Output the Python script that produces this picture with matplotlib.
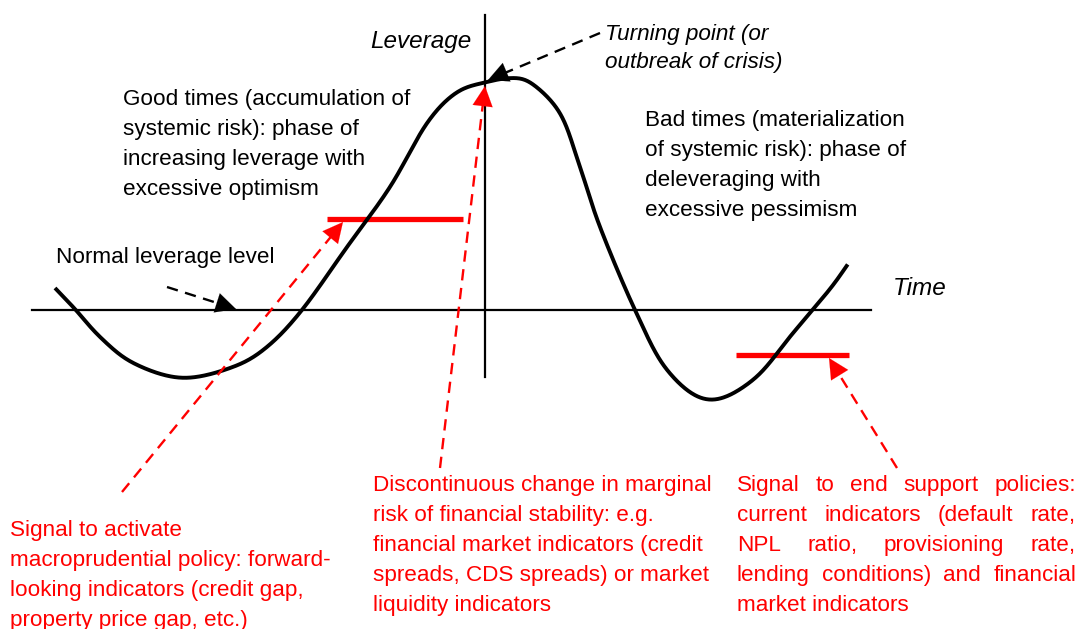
import numpy as np
import matplotlib
matplotlib.use("Agg")
import matplotlib.pyplot as plt
from matplotlib.patches import FancyArrowPatch

# ---------------- data (pixel-space diagram coordinates) ----------------
curve_x = [55, 75, 100, 133, 182, 233, 267, 302, 347, 390, 427, 457, 487,
           510, 530, 560, 580, 600, 635, 667, 708, 753, 793, 830, 848]
curve_y = [288, 309, 337, 363, 378, 367, 347, 310, 247, 187, 123, 92, 82,
           78, 82, 113, 167, 227, 310, 370, 400, 380, 333, 289, 264]

time_axis_x = [32, 871]
time_axis_y = 310
lev_axis_x = 485
lev_axis_y = [15, 377]

red_bar1_x = [327, 463]
red_bar1_y = 219
red_bar2_x = [736, 849]
red_bar2_y = 355

# arrows: (start, tip)
red_arrows = [((122, 492), (343, 222)),
              ((440, 468), (485, 86)),
              ((897, 468), (829, 358))]
black_arrows = [((167, 287), (236, 309)),
                ((600, 33), (488, 80))]

good_lines = ["Good times (accumulation of", "systemic risk): phase of",
              "increasing leverage with", "excessive optimism"]
bad_lines = ["Bad times (materialization", "of systemic risk): phase of",
             "deleveraging with", "excessive pessimism"]
turn_lines = ["Turning point (or", "outbreak of crisis)"]
left_red = ["Signal to activate", "macroprudential policy: forward-",
            "looking indicators (credit gap,", "property price gap, etc.)"]
mid_red = ["Discontinuous change in marginal", "risk of financial stability: e.g.",
           "financial market indicators (credit", "spreads, CDS spreads) or market",
           "liquidity indicators"]
right_red = ["Signal to end support policies:", "current indicators (default rate,",
             "NPL ratio, provisioning rate,", "lending conditions) and financial",
             "market indicators"]

RED = "#ff0000"
FONT = "Liberation Sans"
FS = 16.2

# ---------------- figure ----------------
W, H = 1078, 629
fig = plt.figure(figsize=(W / 100, H / 100), dpi=100)
ax = fig.add_axes([0, 0, 1, 1])
ax.set_xlim(0, W)
ax.set_ylim(H, 0)
ax.axis("off")


def catmull(xs, ys, n=30):
    P = np.column_stack([xs, ys]).astype(float)
    P = np.vstack([P[0] * 2 - P[1], P, P[-1] * 2 - P[-2]])
    out = []
    for i in range(1, len(P) - 2):
        p0, p1, p2, p3 = P[i - 1], P[i], P[i + 1], P[i + 2]
        for t in np.linspace(0, 1, n, endpoint=False):
            t2, t3 = t * t, t * t * t
            out.append(0.5 * ((2 * p1) + (-p0 + p2) * t +
                              (2 * p0 - 5 * p1 + 4 * p2 - p3) * t2 +
                              (-p0 + 3 * p1 - 3 * p2 + p3) * t3))
    out.append(P[-2])
    return np.array(out)


def smooth_path(pts, sigma=6.0):
    seg = np.hypot(*np.diff(pts, axis=0).T)
    s = np.concatenate([[0], np.cumsum(seg)])
    su = np.arange(0, s[-1], 1.0)
    x = np.interp(su, s, pts[:, 0])
    y = np.interp(su, s, pts[:, 1])
    k = np.arange(-int(3 * sigma), int(3 * sigma) + 1)
    g = np.exp(-0.5 * (k / sigma) ** 2)
    g /= g.sum()
    pad = len(k) // 2
    xp = np.concatenate([2 * x[0] - x[pad:0:-1], x, 2 * x[-1] - x[-2:-pad - 2:-1]])
    yp = np.concatenate([2 * y[0] - y[pad:0:-1], y, 2 * y[-1] - y[-2:-pad - 2:-1]])
    return np.convolve(xp, g, mode="valid"), np.convolve(yp, g, mode="valid")


# axes lines
ax.plot(time_axis_x, [time_axis_y, time_axis_y], color="black", lw=1.6)
ax.plot([lev_axis_x, lev_axis_x], lev_axis_y, color="black", lw=1.6)

# curve
cx, cy = smooth_path(catmull(curve_x, curve_y))
ax.plot(cx, cy, color="black", lw=2.8, solid_capstyle="butt", solid_joinstyle="round", zorder=3)

# red bars
ax.plot(red_bar1_x, [red_bar1_y, red_bar1_y], color=RED, lw=3.8, solid_capstyle="butt", zorder=2)
ax.plot(red_bar2_x, [red_bar2_y, red_bar2_y], color=RED, lw=3.8, solid_capstyle="butt", zorder=2)


def dashed_arrow(start, tip, color, head_len=15):
    s = np.array(start, float)
    t = np.array(tip, float)
    d = (t - s) / np.linalg.norm(t - s)
    base = t - d * head_len
    ax.plot([s[0], base[0] + d[0] * 2], [s[1], base[1] + d[1] * 2], color=color, lw=1.7,
            dashes=(4.8, 3.2), zorder=4)
    arr = FancyArrowPatch(tuple(base), tuple(t), arrowstyle="-|>,head_length=0.9,head_width=0.45",
                          mutation_scale=16, color=color, lw=0.1, shrinkA=0, shrinkB=0, zorder=5)
    ax.add_patch(arr)


for s, t in red_arrows:
    dashed_arrow(s, t, RED)
for s, t in black_arrows:
    dashed_arrow(s, t, "black")


def block(lines, x, y0, step=30, color="black", style="normal", fs=FS):
    for i, ln in enumerate(lines):
        ax.text(x, y0 + i * step, ln, color=color, fontsize=fs, family=FONT,
                style=style, va="baseline", ha="left")


fig.canvas.draw()
renderer = fig.canvas.get_renderer()


def justified(lines, x0, x1, y0, step=30, color=RED, fs=FS):
    for i, ln in enumerate(lines):
        y = y0 + i * step
        words = ln.split(" ")
        if i == len(lines) - 1 or len(words) == 1:
            ax.text(x0, y, ln, color=color, fontsize=fs, family=FONT, va="baseline", ha="left")
            continue
        objs = [ax.text(0, y, w, color=color, fontsize=fs, family=FONT, va="baseline", ha="left")
                for w in words]
        widths = [o.get_window_extent(renderer).width for o in objs]
        gap = (x1 - x0 - sum(widths)) / (len(words) - 1)
        x = x0
        for o, w in zip(objs, widths):
            o.set_x(x)
            x += w + gap


block(good_lines, 123, 105)
block(bad_lines, 645, 126)
block(turn_lines, 605, 40, step=28, style="italic")
block(["Normal leverage level"], 56, 263)
ax.text(370, 48, "Leverage", fontsize=17.5, family=FONT, style="italic", va="baseline")
ax.text(893, 295, "Time", fontsize=17.5, family=FONT, style="italic", va="baseline")

block(left_red, 10, 536, color=RED)
block(mid_red, 373, 491, color=RED)
justified(right_red, 737, 1076, 491)

fig.savefig("out.png", dpi=100)
